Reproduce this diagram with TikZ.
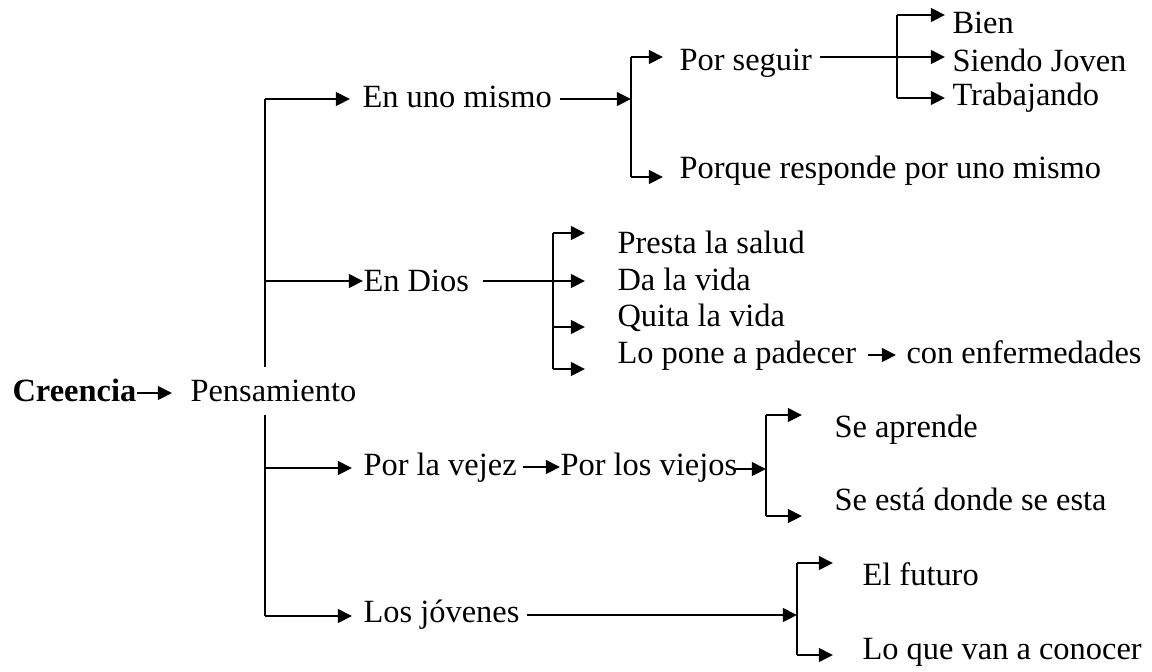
\documentclass[tikz,border=0pt]{standalone}
\usepackage{fontspec}
\setmainfont{Liberation Serif}
\usetikzlibrary{arrows.meta}
\begin{document}
\begin{tikzpicture}[x=0.37pt,y=-0.37pt,
  txt/.style={anchor=base west,inner sep=0pt,font=\fontsize{12}{14}\selectfont},
  arr/.style={line width=0.85pt,-{Triangle[length=5.2pt,width=5.0pt]}},
  ln/.style={line width=0.85pt}]
\useasboundingbox (0,0) rectangle (1152,671);
% texts
\node[txt,font=\fontsize{12}{14}\selectfont\bfseries] (cre) at (12,401) {Creencia};
\node[txt] (pen) at (190,401) {Pensamiento};
\node[txt] (eum) at (362,107) {En uno mismo};
\node[txt] (edi) at (363,291) {En Dios};
\node[txt] (plv) at (363,475) {Por la vejez};
\node[txt] (ljo) at (363,622) {Los jóvenes};
\node[txt] (pse) at (679,70) {Por seguir};
\node[txt] (prp) at (679,178) {Porque responde por uno mismo};
\node[txt] (bie) at (952,33) {Bien};
\node[txt] (sjo) at (952,71) {Siendo Joven};
\node[txt] (tra) at (952,105) {Trabajando};
\node[txt] (pls) at (617,253) {Presta la salud};
\node[txt] (dlv) at (617,290) {Da la vida};
\node[txt] (qlv) at (617,326) {Quita la vida};
\node[txt] (lpp) at (617,363) {Lo pone a padecer};
\node[txt] (cen) at (906,363) {con enfermedades};
\node[txt] (plo) at (560,475) {Por los viejos};
\node[txt] (sap) at (834,437) {Se aprende};
\node[txt] (sed) at (834,510) {Se está donde se esta};
\node[txt] (efu) at (862,585) {El futuro};
\node[txt] (lqv) at (862,659) {Lo que van a conocer};
% coordinates
\coordinate (t0) at (265,99);
\coordinate (t1) at (265,367);
\coordinate (t2) at (265,415);
\coordinate (t3) at (265,616);
\coordinate (tD) at (265,281);
\coordinate (tV) at (265,468);
\coordinate (b1a) at (631,57);
\coordinate (b1m) at (631,99);
\coordinate (b1b) at (631,177);
\coordinate (b2a) at (897,15);
\coordinate (b2b) at (897,98);
\coordinate (b3a) at (553,233);
\coordinate (b3c) at (553,327);
\coordinate (b3b) at (553,369);
\coordinate (b4a) at (766,415);
\coordinate (b4m) at (766,469);
\coordinate (b4b) at (766,516);
\coordinate (b5a) at (797,563);
\coordinate (b5m) at (797,615);
\coordinate (b5b) at (797,655);
% connectors
\draw[arr] (cre.east |- 0,393) -- (172,393) coordinate (cB);
\draw[ln] (t0) -- (t1);
\draw[ln] (t2) -- (t3);
\draw[arr] (t0) -- (350,99) coordinate (eumT);
\draw[arr] (tD) -- (edi.west |- tD);
\draw[arr] (tV) -- (352,468) coordinate (plvT);
\draw[arr] (t3) -- (352,616) coordinate (ljoT);
% en uno mismo
\draw[arr] (560,99) coordinate (eumS) -- (b1m);
\draw[ln] (b1a) -- (b1b);
\draw[arr] (b1a) -- (663,57) coordinate (psT);
\draw[arr] (b1b) -- (663,177) coordinate (prpT);
\draw[arr] (820,57) coordinate (psS) -- (945,57) coordinate (sjoT);
\draw[ln] (b2a) -- (b2b);
\draw[arr] (b2a) -- (945,15) coordinate (bieT);
\draw[arr] (b2b) -- (945,98) coordinate (traT);
% en dios
\draw[arr] (483,281) coordinate (ediS) -- (585,281) coordinate (dlvT);
\draw[ln] (b3a) -- (b3b);
\draw[arr] (b3a) -- (585,233) coordinate (plsT);
\draw[arr] (b3c) -- (585,327) coordinate (qlvT);
\draw[arr] (b3b) -- (585,369) coordinate (lppT);
\draw[arr] (868,355) coordinate (lppS) -- (896,355) coordinate (cenT);
% vejez
\draw[arr] (523,467) coordinate (plvS) -- (560,467) coordinate (ploT);
\draw[arr] (733,469) coordinate (ploS) -- (b4m);
\draw[ln] (b4a) -- (b4b);
\draw[arr] (b4a) -- (802,415) coordinate (sapT);
\draw[arr] (b4b) -- (802,516) coordinate (sedT);
% jovenes
\draw[arr] (527,615) coordinate (ljoS) -- (b5m);
\draw[ln] (b5a) -- (b5b);
\draw[arr] (b5a) -- (833,563) coordinate (efuT);
\draw[arr] (b5b) -- (833,655) coordinate (lqvT);
\end{tikzpicture}
\end{document}
